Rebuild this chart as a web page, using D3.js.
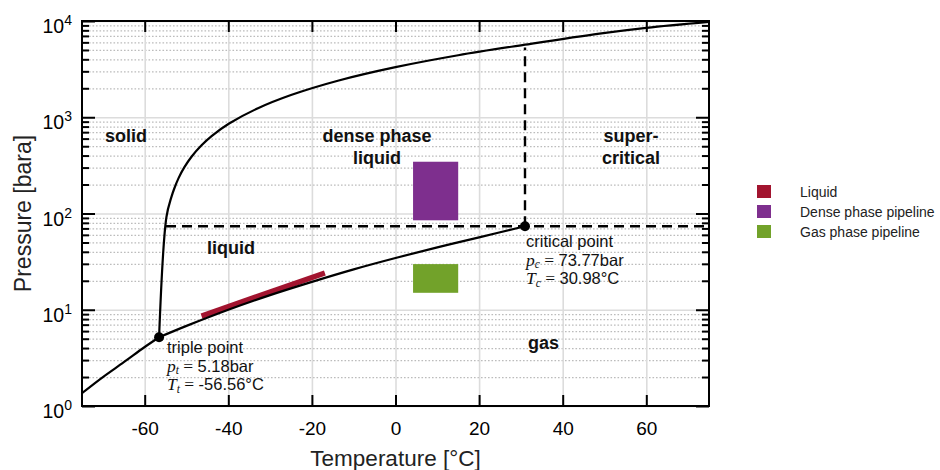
<!DOCTYPE html>
<html>
<head>
<meta charset="utf-8">
<script src="https://cdn.jsdelivr.net/npm/d3@7"></script>
<style>
  html, body { margin: 0; padding: 0; background: #fff; }
  svg { display: block; font-family: "Liberation Sans", Arial, sans-serif; }
</style>
</head>
<body>
<svg id="chart" width="940" height="470"></svg>
<script>
// ---------------- data ----------------
const xTicks = [-60, -40, -20, 0, 20, 40, 60];
const yMajorTicks = [1, 10, 100, 1000, 10000];
const yTickExponents = ["0", "1", "2", "3", "4"];

// sublimation curve (solid-gas)
const subT = [-75, -70, -65, -60, -56.56];
const subP = [1.36, 2.0, 2.85, 4.1, 5.18];

// vapour pressure curve (liquid-gas), triple point to critical point
const vapT = [-56.56, -50, -40, -30, -20, -10, 0, 10, 20, 30.98];
const vapP = [5.18, 6.8, 10.0, 14.2, 19.5, 26.3, 34.5, 44.5, 56.5, 73.77];

// melting curve (solid-liquid)
const meltT = [-56.56, -54.8, -53.6, -52.9, -51.9, -50.5, -48.8, -46.4, -44.0, -39.8, -32.9, -25.0, -13.8, 0, 15, 31, 48.8, 60, 75];
const meltP = [5.18, 92, 149, 183, 233, 303, 389, 511, 637, 860, 1241, 1702, 2397, 3317, 4409, 5676, 7400, 8500, 9800];

// operating regions
const liquidT = [-46.4, -16.9];
const liquidP = [8.6, 24.1];
const densePipeT = [4.2, 15];
const densePipeP = [85, 345];
const gasPipeT = [4.2, 15];
const gasPipeP = [15, 29.8];

// special points
const tripleT = -56.56, tripleP = 5.18;
const critT = 30.98, critP = 73.77;
const critDashTopP = 5300;
const critDashStartT = -54.9;

const legendLabels = ["Liquid", "Dense phase pipeline", "Gas phase pipeline"];
const legendColors = ["#A2142F", "#7E2F8E", "#72A22A"];

// ---------------- layout ----------------
const svg = d3.select("#chart");
const L = 82, R = 709, Tp = 21, B = 406;
const W = R - L, H = B - Tp;

const x = d3.scaleLinear().domain([-75, 75]).range([L, R]);
const y = d3.scaleLog().domain([1, 10000]).range([B, Tp]);

const allY = y.ticks();
const minorY = allY.filter(v => !yMajorTicks.includes(v));

const g = svg.append("g");

svg.append("defs").append("clipPath").attr("id", "clip")
  .append("rect").attr("x", L).attr("y", Tp).attr("width", W).attr("height", H);

// ---------- grid ----------
const grid = g.append("g");
grid.append("g").attr("transform", `translate(${L},0)`)
  .call(d3.axisLeft(y).tickValues(minorY).tickSize(-W).tickFormat(""))
  .call(s => s.select(".domain").remove())
  .call(s => s.selectAll("line").attr("stroke", "#bcbcbc").attr("stroke-width", 1.3).attr("stroke-dasharray", "1.6,1.9"));
grid.append("g").attr("transform", `translate(${L},0)`)
  .call(d3.axisLeft(y).tickValues(yMajorTicks).tickSize(-W).tickFormat(""))
  .call(s => s.select(".domain").remove())
  .call(s => s.selectAll("line").attr("stroke", "#dcdcdc").attr("stroke-width", 1.6));
grid.append("g").attr("transform", `translate(0,${B})`)
  .call(d3.axisBottom(x).tickValues(xTicks).tickSize(-H).tickFormat(""))
  .call(s => s.select(".domain").remove())
  .call(s => s.selectAll("line").attr("stroke", "#dcdcdc").attr("stroke-width", 1.6));

const plot = g.append("g").attr("clip-path", "url(#clip)");

// ---------- rectangles ----------
function rectFor(Tr, Pr, color) {
  plot.append("rect")
    .attr("x", x(Tr[0])).attr("width", x(Tr[1]) - x(Tr[0]))
    .attr("y", y(Pr[1])).attr("height", y(Pr[0]) - y(Pr[1]))
    .attr("fill", color);
}
rectFor(densePipeT, densePipeP, legendColors[1]);
rectFor(gasPipeT, gasPipeP, legendColors[2]);

// ---------- liquid line ----------
const lineStraight = d3.line().x(d => x(d[0])).y(d => y(d[1]));
plot.append("path").datum(d3.zip(liquidT, liquidP))
  .attr("d", lineStraight).attr("fill", "none")
  .attr("stroke", legendColors[0]).attr("stroke-width", 5.5);

// ---------- curves ----------
const lineSmooth = d3.line().x(d => x(d[0])).y(d => y(d[1])).curve(d3.curveCatmullRom.alpha(0.5));
[[subT, subP], [vapT, vapP], [meltT, meltP]].forEach(([Ts, Ps]) => {
  plot.append("path").datum(d3.zip(Ts, Ps))
    .attr("d", lineSmooth).attr("fill", "none")
    .attr("stroke", "#000").attr("stroke-width", 2.2).attr("stroke-linejoin", "round");
});

// ---------- dashed lines ----------
plot.append("line")
  .attr("x1", x(critDashStartT)).attr("x2", x(75))
  .attr("y1", y(critP)).attr("y2", y(critP))
  .attr("stroke", "#000").attr("stroke-width", 2.4).attr("stroke-dasharray", "10,6");
plot.append("line")
  .attr("x1", x(critT)).attr("x2", x(critT))
  .attr("y1", y(critP)).attr("y2", y(critDashTopP))
  .attr("stroke", "#000").attr("stroke-width", 2.4).attr("stroke-dasharray", "10,6");

// ---------- markers ----------
[[tripleT, tripleP], [critT, critP]].forEach(([t, p]) => {
  g.append("circle").attr("cx", x(t)).attr("cy", y(p)).attr("r", 5).attr("fill", "#000");
});

// ---------- axes box & ticks ----------
const tickStyle = s => s.selectAll("line").attr("stroke", "#000").attr("stroke-width", 2);
g.append("g").attr("transform", `translate(0,${B})`)
  .call(d3.axisBottom(x).tickValues(xTicks).tickSize(-11).tickFormat(d => String(d)))
  .call(s => s.select(".domain").remove())
  .call(tickStyle)
  .call(s => s.selectAll("text").attr("y", 29).attr("dy", 0)
    .attr("font-size", 19).attr("fill", "#000")
    .attr("font-family", "Liberation Sans, Arial, sans-serif"));
g.append("g").attr("transform", `translate(0,${Tp})`)
  .call(d3.axisTop(x).tickValues(xTicks).tickSize(-11).tickFormat(""))
  .call(s => s.select(".domain").remove())
  .call(tickStyle);
const leftMaj = g.append("g").attr("transform", `translate(${L},0)`)
  .call(d3.axisLeft(y).tickValues(yMajorTicks).tickSize(-13).tickFormat(""))
  .call(s => s.select(".domain").remove())
  .call(tickStyle);
leftMaj.selectAll(".tick").each(function(d, i) {
  const t = d3.select(this).append("text")
    .attr("x", -10).attr("y", 11.5)
    .attr("text-anchor", "end").attr("fill", "#000")
    .attr("font-size", 19.5)
    .attr("font-family", "Liberation Sans, Arial, sans-serif");
  t.append("tspan").text("10");
  t.append("tspan").attr("font-size", 14).attr("dy", -8).text(yTickExponents[i]);
});
g.append("g").attr("transform", `translate(${L},0)`)
  .call(d3.axisLeft(y).tickValues(minorY).tickSize(-7).tickFormat(""))
  .call(s => s.select(".domain").remove())
  .call(tickStyle);
g.append("g").attr("transform", `translate(${R},0)`)
  .call(d3.axisRight(y).tickValues(yMajorTicks).tickSize(-13).tickFormat(""))
  .call(s => s.select(".domain").remove())
  .call(tickStyle);
g.append("g").attr("transform", `translate(${R},0)`)
  .call(d3.axisRight(y).tickValues(minorY).tickSize(-7).tickFormat(""))
  .call(s => s.select(".domain").remove())
  .call(tickStyle);

g.append("rect").attr("x", L).attr("y", Tp).attr("width", W).attr("height", H)
  .attr("fill", "none").attr("stroke", "#000").attr("stroke-width", 2);

// ---------- axis titles ----------
svg.append("text").attr("x", (L + R) / 2).attr("y", 466)
  .attr("text-anchor", "middle").attr("font-size", 22.5).attr("fill", "#222")
  .text("Temperature [°C]");
svg.append("text").attr("transform", `translate(31,${(Tp + B) / 2}) rotate(-90)`)
  .attr("text-anchor", "middle").attr("font-size", 23).attr("fill", "#222")
  .text("Pressure [bara]");

// ---------- region labels ----------
function bold(txt, px, py, anchor) {
  svg.append("text").attr("x", px).attr("y", py).attr("text-anchor", anchor || "start")
    .attr("font-size", 18).attr("font-weight", "bold").attr("fill", "#111").text(txt);
}
bold("solid", 105, 142);
bold("dense phase", 377, 142, "middle");
bold("liquid", 377, 164, "middle");
bold("super-", 631, 142, "middle");
bold("critical", 631, 164, "middle");
bold("liquid", 207, 254);
bold("gas", 528, 349);

// ---------- point annotations ----------
function annot(px, py, name, sym, sub, val) {
  const fs = 16.5;
  svg.append("text").attr("x", px).attr("y", py).attr("font-size", fs).attr("fill", "#111").text(name);
  [[sym[0], sub, val[0]], [sym[1], sub, val[1]]].forEach(([s, sb, v], i) => {
    const t = svg.append("text").attr("x", px).attr("y", py + 18.5 * (i + 1)).attr("font-size", fs).attr("fill", "#111");
    t.append("tspan").attr("font-family", "Liberation Serif, Times New Roman, serif").attr("font-style", "italic").attr("font-size", 17.5).text(s);
    t.append("tspan").attr("font-family", "Liberation Serif, Times New Roman, serif").attr("font-style", "italic").attr("font-size", 11.5).attr("dy", 2.5).text(sb);
    t.append("tspan").attr("font-family", "Liberation Serif, Times New Roman, serif").attr("font-size", 17.5).attr("dy", -2.5).text(" = ");
    t.append("tspan").text(v);
  });
}
annot(167, 353, "triple point", ["p", "T"], "t", [`${tripleP}bar`, `${tripleT}°C`]);
annot(526, 247, "critical point", ["p", "T"], "c", [`${critP}bar`, `${critT}°C`]);

// ---------- legend ----------
const lg = svg.append("g").attr("transform", "translate(757,185)");
legendLabels.forEach((lab, i) => {
  lg.append("rect").attr("x", 0).attr("y", i * 20).attr("width", 14).attr("height", 13).attr("fill", legendColors[i]);
  lg.append("text").attr("x", 43).attr("y", i * 20 + 11.5).attr("font-size", 14).attr("fill", "#222").text(lab);
});
</script>
</body>
</html>
